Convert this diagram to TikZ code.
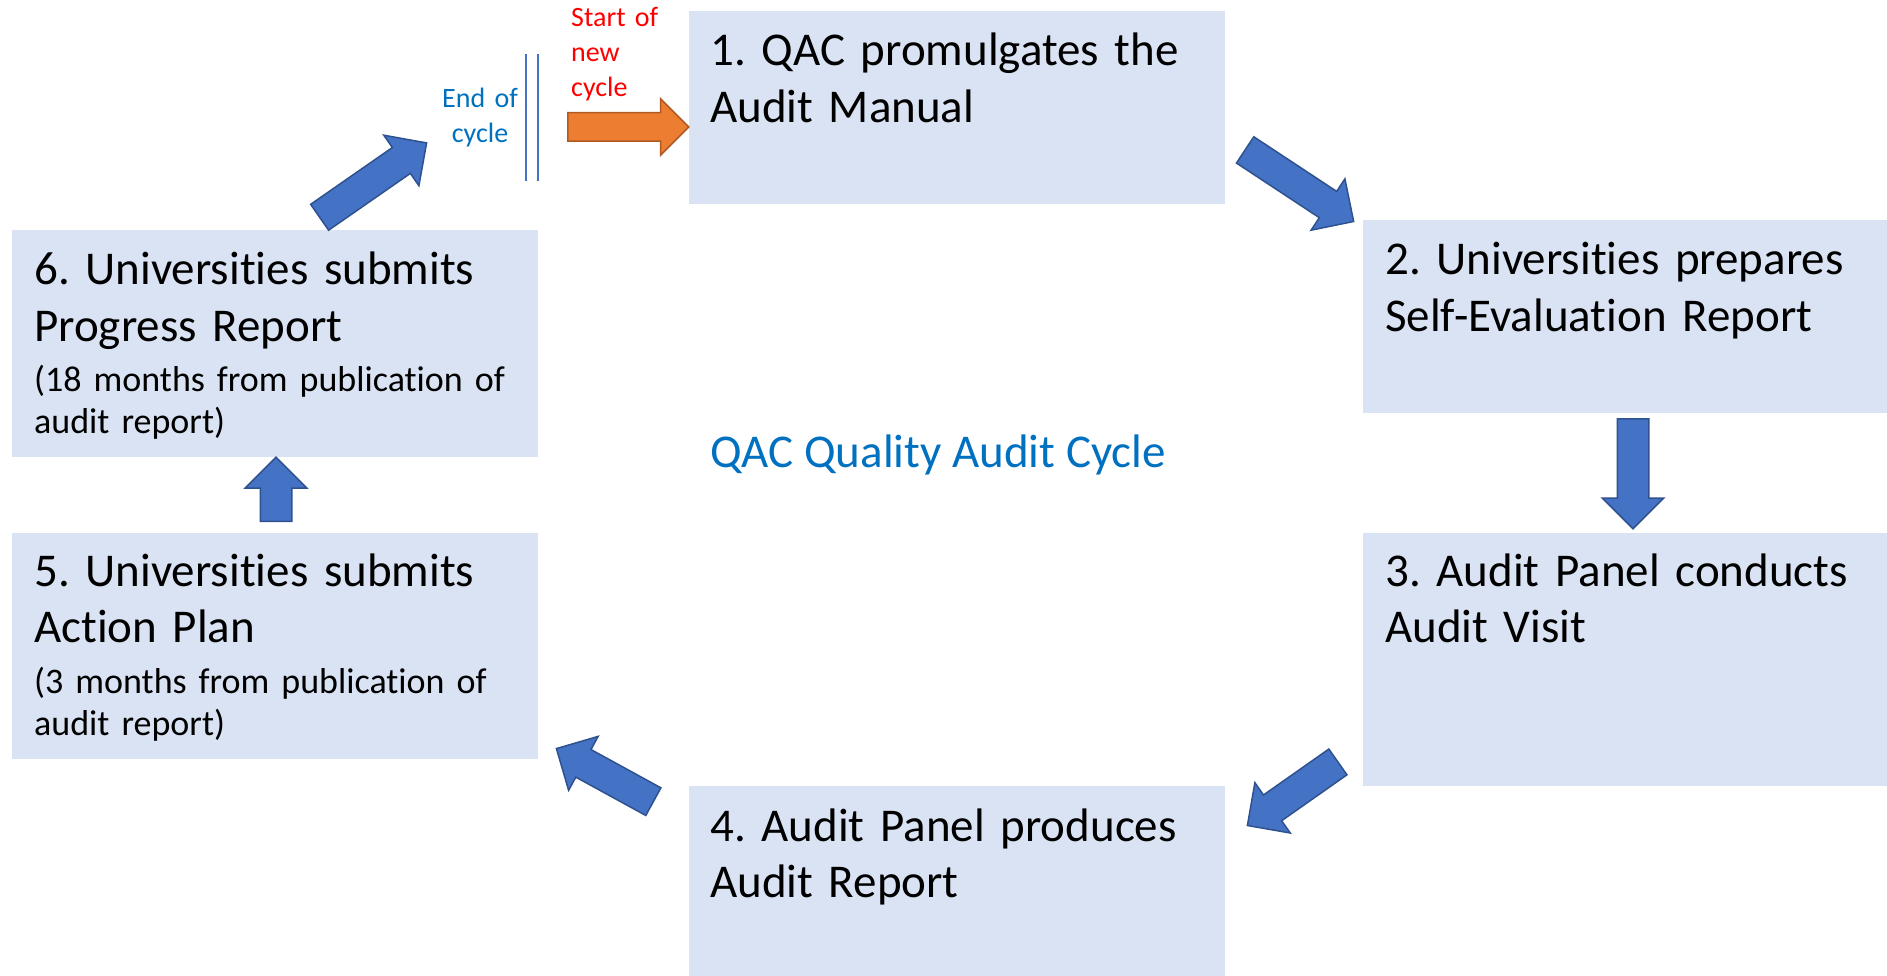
\documentclass[tikz,border=0pt]{standalone}
\usepackage{fontspec}
\setmainfont{Carlito}[Ligatures=NoCommon]
\usetikzlibrary{shapes.arrows,calc}
\definecolor{boxfill}{HTML}{DAE3F3}
\definecolor{arrfill}{HTML}{4472C4}
\definecolor{arrline}{HTML}{2F528F}
\definecolor{orfill}{HTML}{ED7D31}
\definecolor{orline}{HTML}{AE5A21}
\definecolor{titleblue}{HTML}{0070C0}
\definecolor{startred}{HTML}{FF0000}
\frenchspacing
\tikzset{
  stepbox/.style={fill=boxfill, draw=none, anchor=north west, inner sep=0pt},
  maintext/.style={anchor=base west, inner sep=0pt, text width=500pt, align=left,
    font=\frenchspacing\fontsize{47}{56.5}\selectfont},
  subtext/.style={anchor=base west, inner sep=0pt, text width=500pt, align=left,
    font=\frenchspacing\fontsize{36}{42.6}\selectfont},
  blockarrow/.style={single arrow, fill=arrfill, draw=arrline, line width=1.5pt,
    inner xsep=0pt, inner ysep=15pt, single arrow head extend=15pt,
    single arrow tip angle=90, minimum height=#1, anchor=tail},
  orarrow/.style={single arrow, fill=orfill, draw=orline, line width=1.5pt,
    inner xsep=0pt, inner ysep=13.5pt, single arrow head extend=14pt,
    single arrow tip angle=90, minimum height=#1, anchor=tail},
  smalltext/.style={inner sep=0pt, text width=120pt, font=\fontsize{28}{35}\selectfont},
}
\begin{document}
\begin{tikzpicture}[x=1pt,y=-1pt]
\useasboundingbox (0,0) rectangle (1887,976);
% boxes
\node (b1) [stepbox, minimum width=536pt, minimum height=193pt] at (689,11) {};
\node (b2) [stepbox, minimum width=524pt, minimum height=193pt] at (1363,220) {};
\node (b3) [stepbox, minimum width=524pt, minimum height=253pt] at (1363,533) {};
\node (b4) [stepbox, minimum width=536pt, minimum height=190pt] at (689,786) {};
\node (b5) [stepbox, minimum width=526pt, minimum height=226pt] at (12,533) {};
\node (b6) [stepbox, minimum width=526pt, minimum height=227pt] at (12,230) {};
% texts
\node (t1) [maintext] at ($(b1.north west)+(21,55)$) {1. QAC promulgates the\\Audit Manual};
\node (t2) [maintext] at ($(b2.north west)+(22,55)$) {2. Universities prepares\\Self-Evaluation Report};
\node (t3) [maintext] at ($(b3.north west)+(22,53)$) {3. Audit Panel conducts\\Audit Visit};
\node (t4) [maintext] at ($(b4.north west)+(21,55)$) {4. Audit Panel produces\\Audit Report};
\node (t5) [maintext] at ($(b5.north west)+(22,53)$) {5. Universities submits\\Action Plan};
\node (t5s) [subtext] at ($(b5.north west)+(22,160)$) {(3 months from publication of\\audit report)};
\node (t6) [maintext] at ($(b6.north west)+(22,55)$) {6. Universities submits\\Progress Report};
\node (t6s) [subtext] at ($(b6.north west)+(22,161)$) {(18 months from publication of\\audit report)};
% title
\node (title) [anchor=base west, inner sep=0pt, text=titleblue, font=\fontsize{47}{56}\selectfont] at (710,467) {QAC Quality Audit Cycle};
% cycle labels
\node (endc) [smalltext, anchor=base, align=center, text=titleblue] at (480,108) {End of\\cycle};
\node (startc) [smalltext, anchor=base west, align=left, text=startred] at (571,27) {Start of\\new\\cycle};
% end-of-cycle double bar
\coordinate (barA1) at (526,54);
\coordinate (barA2) at (526,181);
\coordinate (barB1) at (538,54);
\coordinate (barB2) at (538,181);
\draw[arrfill, line width=1.5pt] (barA1) -- (barA2) (barB1) -- (barB2);
% block arrows (placed by their tails)
\node (a0) [orarrow=121pt] at (567,127) {};
\node (a12) [blockarrow=130pt, rotate=-33.4] at (1244.5,149.5) {};
\node (a23) [blockarrow=110pt, rotate=-90] at (1633,418) {};
\node (a34) [blockarrow=110.6pt, rotate=215.1] at (1338.5,761.5) {};
\node (a45) [blockarrow=110.5pt, rotate=151.3] at (654,802) {};
\node (a56) [blockarrow=64pt, rotate=90] at (276,522) {};
\node (a6e) [blockarrow=130.3pt, rotate=34.8] at (319,217.7) {};
\end{tikzpicture}
\end{document}
